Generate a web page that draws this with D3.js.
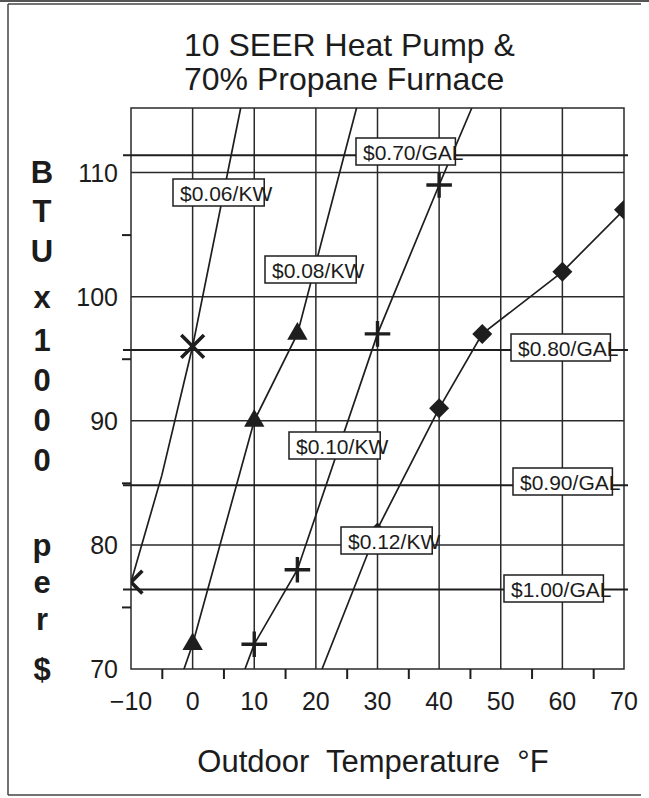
<!DOCTYPE html>
<html><head><meta charset="utf-8">
<script src="https://cdn.jsdelivr.net/npm/d3@7"></script>
<style>
html,body{margin:0;padding:0;background:#fff;}
svg{display:block;}
text{font-family:"Liberation Sans", Arial, Helvetica, sans-serif; fill:#1c1c1c;}
</style></head><body>
<svg id="chart" width="649" height="798"></svg>
<script>
// ---------------- data ----------------
const titleLines = ["10 SEER Heat Pump &", "70% Propane Furnace"];
const xTicks = [-10, 0, 10, 20, 30, 40, 50, 60, 70];
const xTickLabels = ["\u221210", "0", "10", "20", "30", "40", "50", "60", "70"];
const xMinorTicks = [-5, 5, 15, 25, 35, 45, 55, 65];
const yTicks = [70, 80, 90, 100, 110];
const yTickLabels = ["70", "80", "90", "100", "110"];
const yMinorTicks = [75, 85, 95, 105];
const xTitle = "Outdoor  Temperature  \u00B0F";
const yTitleChars = ["B", "T", "U", "x", "1", "0", "0", "0", "p", "e", "r", "$"];

// heat pump curves: [outdoor temp °F, BTU x 1000 per $]
const hpLabels = ["$0.06/KW", "$0.08/KW", "$0.10/KW", "$0.12/KW"];
const hpMarkers = ["x", "triangle", "plus", "diamond"];
const hp006 = [[-10, 77], [-5, 85.6], [0, 96], [7.8, 115.2]];
const hp008 = [[-1.4, 70], [0, 72], [10, 90], [17, 97], [26.6, 115.2]];
const hp010 = [[8.5, 70], [10, 72], [17, 78], [30, 97], [40, 109], [45.3, 115.2]];
const hp012 = [[21, 70], [30, 81.3], [40, 91], [47, 97], [60, 102], [70, 107]];
const hp006Pts = [[-10, 77], [0, 96]];
const hp008Pts = [[0, 72], [10, 90], [17, 97]];
const hp010Pts = [[10, 72], [17, 78], [30, 97], [40, 109]];
const hp012Pts = [[30, 81], [40, 91], [47, 97], [60, 102], [70, 107]];

// propane furnace levels
const gasLabels = ["$0.70/GAL", "$0.80/GAL", "$0.90/GAL", "$1.00/GAL"];
const gasValues = [111.4, 95.7, 84.8, 76.4];

// ---------------- layout ----------------
const svg = d3.select("#chart");
const W = 649, H = 798;
const plot = {left: 131, right: 624, top: 108, bottom: 669};
const x = d3.scaleLinear().domain([-10, 70]).range([plot.left, plot.right]);
const y = d3.scaleLinear().domain([70, 115.2]).range([plot.bottom, plot.top]);
const ink = "#1e1e1e";

svg.append("rect").attr("width", W).attr("height", H).attr("fill", "#fff");

// frame of the scanned page
const frame = svg.append("g").attr("stroke", "#444").attr("stroke-width", 1.5);
frame.append("line").attr("x1", 8).attr("x2", 8).attr("y1", 4).attr("y2", 795);
frame.append("line").attr("x1", 8).attr("x2", 641).attr("y1", 4).attr("y2", 4);
frame.append("line").attr("x1", 8).attr("x2", 641).attr("y1", 795).attr("y2", 795);
svg.append("rect").attr("x", 0).attr("y", 0).attr("width", W).attr("height", 2).attr("fill", "#555");

// title
svg.append("g").selectAll("text").data(titleLines).join("text")
  .attr("x", 184).attr("y", (d, i) => 56 + i * 34)
  .attr("font-size", 32).text(d => d);

// clip
svg.append("clipPath").attr("id", "clip").append("rect")
  .attr("x", plot.left).attr("y", plot.top)
  .attr("width", plot.right - plot.left).attr("height", plot.bottom - plot.top);

// grid
const grid = svg.append("g").attr("stroke", "#2a2a2a").attr("stroke-width", 1.5);
grid.selectAll(".vg").data(xTicks.filter(d => d > -10 && d < 70)).join("line")
  .attr("x1", d => x(d)).attr("x2", d => x(d)).attr("y1", plot.top).attr("y2", plot.bottom);
grid.selectAll(".hg").data(yTicks.filter(d => d > 70)).join("line")
  .attr("x1", plot.left).attr("x2", plot.right).attr("y1", d => y(d)).attr("y2", d => y(d));
grid.append("rect").attr("x", plot.left).attr("y", plot.top)
  .attr("width", plot.right - plot.left).attr("height", plot.bottom - plot.top)
  .attr("fill", "none");

// axes (minor ticks outside)
const xAxis = d3.axisBottom(x).tickValues(xMinorTicks).tickSize(10).tickFormat("");
svg.append("g").attr("transform", `translate(0,${plot.bottom})`).call(xAxis)
  .call(g => g.select(".domain").remove())
  .call(g => g.selectAll("line").attr("stroke", ink).attr("stroke-width", 2));
const yAxis = d3.axisLeft(y).tickValues(yMinorTicks).tickSize(9).tickFormat("");
svg.append("g").attr("transform", `translate(${plot.left},0)`).call(yAxis)
  .call(g => g.select(".domain").remove())
  .call(g => g.selectAll("line").attr("stroke", ink).attr("stroke-width", 2));

// tick labels
svg.append("g").selectAll("text").data(xTicks).join("text")
  .attr("x", d => x(d)).attr("y", 710).attr("text-anchor", "middle")
  .attr("font-size", 25).text((d, i) => xTickLabels[i]);
svg.append("g").selectAll("text").data(yTicks).join("text")
  .attr("x", 118).attr("y", d => y(d) + 9).attr("text-anchor", "end")
  .attr("font-size", 25).text((d, i) => yTickLabels[i]);

// axis titles
svg.append("text").attr("x", 373).attr("y", 772).attr("text-anchor", "middle")
  .attr("font-size", 31).style("white-space", "pre").text(xTitle);
const yTitleY = [172, 211, 251, 297, 340, 380, 420, 460, 545, 582, 619, 669];
svg.append("g").selectAll("text").data(yTitleChars).join("text")
  .attr("x", 42).attr("y", (d, i) => yTitleY[i] + 11).attr("text-anchor", "middle")
  .attr("font-size", 31).attr("font-weight", "bold").text(d => d);

// gas lines
svg.append("g").selectAll("line").data(gasValues).join("line")
  .attr("x1", plot.left - 8).attr("x2", plot.right + 4)
  .attr("y1", d => y(d)).attr("y2", d => y(d))
  .attr("stroke", ink).attr("stroke-width", 2);

// heat pump curves
const curves = [hp006, hp008, hp010, hp012];
const points = [hp006Pts, hp008Pts, hp010Pts, hp012Pts];
const line = d3.line().x(d => x(d[0])).y(d => y(d[1]));
const hpG = svg.append("g").attr("clip-path", "url(#clip)");
hpG.selectAll("path.curve").data(curves).join("path").attr("class", "curve")
  .attr("d", line).attr("fill", "none").attr("stroke", ink).attr("stroke-width", 1.7);

function marker(type) {
  if (type === "x") return {d: d3.symbol(d3.symbolTimes, 340)(), fill: "none", sw: 3.6};
  if (type === "plus") return {d: d3.symbol(d3.symbolPlus, 215)(), fill: "none", sw: 3.4};
  if (type === "triangle") return {d: d3.symbol(d3.symbolTriangle, 180)(), fill: ink, sw: 0};
  return {d: d3.symbol(d3.symbolSquare, 200)(), fill: ink, sw: 0, rot: 45};
}
points.forEach((pts, i) => {
  const m = marker(hpMarkers[i]);
  hpG.append("g").selectAll("path").data(pts).join("path")
    .attr("d", m.d)
    .attr("transform", d => `translate(${x(d[0])},${y(d[1])})${m.rot ? " rotate(45)" : ""}`)
    .attr("fill", m.fill).attr("stroke", m.fill === "none" ? ink : "none")
    .attr("stroke-width", m.sw);
});

// boxed labels (box left, box top in px)
const labelText = [...hpLabels, ...gasLabels];
const labelPos = [[173, 179], [265, 256], [289, 432], [341, 527],
                  [356, 138], [511, 334], [513, 468], [504, 575]];
const lg = svg.append("g");
labelText.forEach((t, i) => {
  const g = lg.append("g");
  const rect = g.append("rect");
  const tx = g.append("text").attr("x", labelPos[i][0] + 7).attr("y", labelPos[i][1] + 22)
    .attr("font-size", 21).text(t);
  const w = tx.node().getComputedTextLength();
  rect.attr("x", labelPos[i][0]).attr("y", labelPos[i][1])
    .attr("width", w - 1).attr("height", 27)
    .attr("fill", "#fff").attr("stroke", ink).attr("stroke-width", 1.5);
});
</script>
</body></html>
